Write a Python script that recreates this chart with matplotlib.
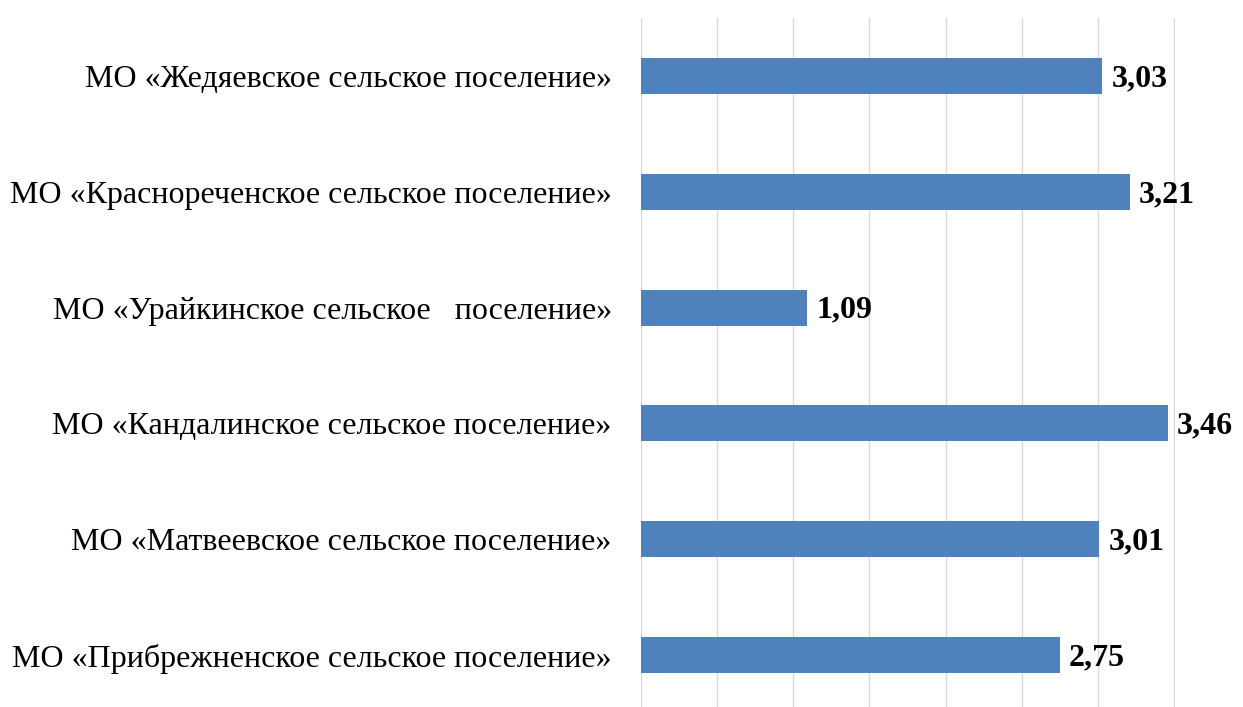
import matplotlib
matplotlib.use("Agg")
import matplotlib.pyplot as plt

plt.rcParams['font.family'] = ['Liberation Serif', 'DejaVu Serif']

# settlements, top to bottom
names = [
    "МО «Жедяевское сельское поселение»",
    "МО «Краснореченское сельское поселение»",
    "МО «Урайкинское сельское   поселение»",
    "МО «Кандалинское сельское поселение»",
    "МО «Матвеевское сельское поселение»",
    "МО «Прибрежненское сельское поселение»",
]
values = [3.03, 3.21, 1.09, 3.46, 3.01, 2.75]
value_labels = ["3,03", "3,21", "1,09", "3,46", "3,01", "2,75"]

W, H = 1243, 707
fig = plt.figure(figsize=(W / 100, H / 100), dpi=100)
# axes box in pixels: x 641..1174, y 18..713
ax = fig.add_axes([641 / W, (H - 713) / H, (1175 - 641) / W, 695 / H])

pos = list(range(len(names)))
ax.barh(pos, values, height=0.31, color='#4f81bd', zorder=3)
ax.set_xlim(0, 3.5066)
ax.set_ylim(len(names) - 0.5, -0.5)
ax.set_xticks([i * 0.5 for i in range(8)])
ax.set_xticklabels([])
ax.tick_params(axis='x', length=0)
ax.tick_params(axis='y', length=0, pad=21, labelsize=23)
ax.set_yticks(pos)
ax.set_yticklabels(names)
ax.grid(axis='x', color='#d9d9d9', linewidth=1, zorder=0)
for s in ax.spines.values():
    s.set_visible(False)

for p, v, lab in zip(pos, values, value_labels):
    ax.annotate(lab, (v, p), xytext=(6.5, -2), textcoords='offset points',
                va='center', ha='left', fontsize=23, fontweight='bold')

fig.savefig("out.png", dpi=100)
